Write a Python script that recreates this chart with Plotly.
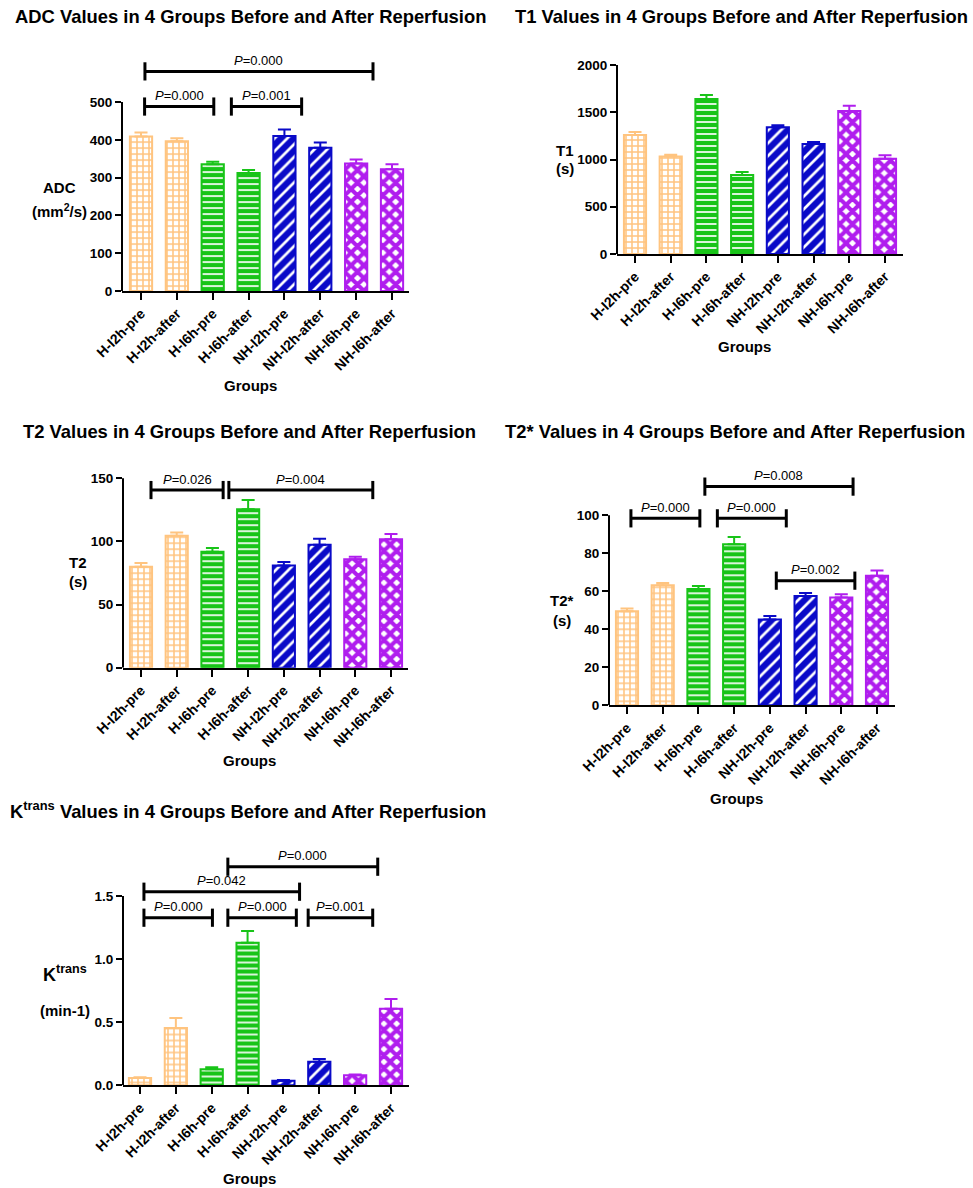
import plotly.graph_objects as go

# ---------------- data ----------------
categories = ["H-I2h-pre", "H-I2h-after", "H-I6h-pre", "H-I6h-after",
              "NH-I2h-pre", "NH-I2h-after", "NH-I6h-pre", "NH-I6h-after"]

adc_mean = [409, 396, 335, 312, 410, 379, 337, 322]
adc_sem = [10, 8, 7, 8, 17, 14, 11, 13]
t1_mean = [1259, 1033, 1640, 836, 1340, 1164, 1513, 1009]
t1_sem = [32, 18, 43, 32, 22, 21, 57, 35]
t2_mean = [80, 104.6, 91.9, 125.4, 81, 97.4, 85.8, 101.7]
t2_sem = [3.0, 2.4, 2.9, 7.4, 2.7, 4.8, 2.1, 4.2]
t2s_mean = [49.5, 63.2, 61.2, 84.7, 45.1, 57.5, 56.8, 68.2]
t2s_sem = [1.5, 1.2, 1.6, 3.9, 1.9, 1.6, 1.6, 2.8]
ktrans_mean = [0.058, 0.454, 0.127, 1.130, 0.037, 0.187, 0.079, 0.607]
ktrans_sem = [0.005, 0.079, 0.016, 0.093, 0.005, 0.022, 0.006, 0.077]

# significance brackets: start/end category index, level (data units), P value
adc_br_start = [0.1, 2.52, 0.11]
adc_br_end = [2.03, 4.48, 6.47]
adc_br_level = [488, 488, 581]
adc_br_p = ["0.000", "0.001", "0.000"]

t2_br_start = [0.28, 2.46]
t2_br_end = [2.30, 6.49]
t2_br_level = [140.7, 140.7]
t2_br_p = ["0.026", "0.004"]

t2s_br_start = [0.11, 2.53, 2.18, 4.18]
t2s_br_end = [2.04, 4.46, 6.33, 6.38]
t2s_br_level = [98.4, 98.4, 115.1, 65.6]
t2s_br_p = ["0.000", "0.000", "0.008", "0.002"]

kt_br_start = [0.11, 2.45, 4.69, 0.11, 2.45]
kt_br_end = [2.02, 4.36, 6.49, 4.45, 6.63]
kt_br_level = [1.328, 1.328, 1.328, 1.534, 1.732]
kt_br_p = ["0.000", "0.000", "0.001", "0.042", "0.000"]

# ---------------- styling ----------------
W, H = 973, 1188
FONT = "Liberation Sans, Arial, sans-serif"
ORANGE = "#FFC47F"
GREEN = "#18C418"
BLUE = "#0A0AC8"
PURPLE = "#B01EEE"

groups = [  # (bar indices, color, pattern)
    ([0, 1], ORANGE, dict(shape="+", fgcolor=ORANGE, bgcolor="white", size=6, solidity=0.45, fillmode="replace")),
    ([2, 3], GREEN, dict(shape="-", fgcolor="white", bgcolor=GREEN, size=6, solidity=0.28, fillmode="replace")),
    ([4, 5], BLUE, dict(shape="/", fgcolor="white", bgcolor=BLUE, size=9, solidity=0.3, fillmode="replace")),
    ([6, 7], PURPLE, dict(shape="x", fgcolor=PURPLE, bgcolor="white", size=9, solidity=0.7, fillmode="replace")),
]

# panel geometry in pixels: axis left, axis right, cat0 center, cat7 center, y0 px, ytop px, ytop value, ext value, dtick
panels = [
    dict(mean=adc_mean, sem=adc_sem, geo=(122, 409, 141, 392, 291, 102, 500, 640, 100), fmt="d",
         br=(adc_br_start, adc_br_end, adc_br_level, adc_br_p),
         title="<b>ADC Values in 4 Groups Before and After Reperfusion</b>", tpos=(250, 17),
         ytitle=[("<b>ADC</b>", 59, 187, 15), ("<b>(mm<sup>2</sup>/s)</b>", 59, 210, 15)], gpos=(250, 385)),
    dict(mean=t1_mean, sem=t1_sem, geo=(617, 903, 635, 885, 254, 65, 2000, 2000, 500), fmt="d",
         br=None,
         title="<b>T1 Values in 4 Groups Before and After Reperfusion</b>", tpos=(741, 17),
         ytitle=[("<b>T1</b>", 565, 150, 15), ("<b>(s)</b>", 565, 168, 15)], gpos=(744, 347)),
    dict(mean=t2_mean, sem=t2_sem, geo=(123, 408, 141, 391, 667.7, 478.3, 150, 158, 50), fmt="d",
         br=(t2_br_start, t2_br_end, t2_br_level, t2_br_p),
         title="<b>T2 Values in 4 Groups Before and After Reperfusion</b>", tpos=(249, 431),
         ytitle=[("<b>T2</b>", 78, 563, 15), ("<b>(s)</b>", 78, 582, 15)], gpos=(249, 760)),
    dict(mean=t2s_mean, sem=t2s_sem, geo=(609, 895, 627, 877, 705.3, 515.3, 100, 130, 20), fmt="d",
         br=(t2s_br_start, t2s_br_end, t2s_br_level, t2s_br_p),
         title="<b>T2* Values in 4 Groups Before and After Reperfusion</b>", tpos=(735, 431),
         ytitle=[("<b>T2*</b>", 562, 601, 15), ("<b>(s)</b>", 562, 620, 15)], gpos=(736, 798)),
    dict(mean=ktrans_mean, sem=ktrans_sem, geo=(123, 409, 140, 391, 1085.3, 896, 1.5, 1.9, 0.5), fmt=".1f",
         br=(kt_br_start, kt_br_end, kt_br_level, kt_br_p),
         title="<b>K<sup>trans</sup> Values in 4 Groups Before and After Reperfusion</b>", tpos=(248, 810),
         ytitle=[("<b>K<sup>trans</sup></b>", 65, 973, 18), ("<b>(min-1)</b>", 65, 1010, 15)], gpos=(249, 1178)),
]

fig = go.Figure()
annotations = []
shapes = []
xpos = list(range(len(categories)))

for n, p in enumerate(panels, start=1):
    xa = "x" if n == 1 else f"x{n}"
    ya = "y" if n == 1 else f"y{n}"
    left, right, c0, c7, y0px, ytpx, ytv, ext, dt = p["geo"]
    sp = (c7 - c0) / 7.0
    k = (y0px - ytpx) / ytv
    top_px = y0px - ext * k

    for idx, col, pat in groups:
        fig.add_trace(go.Bar(
            x=[xpos[i] for i in idx], y=[p["mean"][i] for i in idx],
            width=0.62,
            marker=dict(color=col, line=dict(color=col, width=2), pattern=pat),
            error_y=dict(type="data", symmetric=False,
                         array=[p["sem"][i] for i in idx], arrayminus=[0] * len(idx),
                         color=col, thickness=2, width=6.5),
            xaxis=xa, yaxis=ya, showlegend=False, hoverinfo="x+y",
        ))

    if p["br"] is not None:
        bs, be, bl, bp = p["br"]
        for s, e, lv, pv in zip(bs, be, bl, bp):
            fig.add_trace(go.Scatter(
                x=[s, e], y=[lv, lv], mode="lines+markers",
                line=dict(color="black", width=3),
                marker=dict(symbol="line-ns", size=13, line=dict(color="black", width=3)),
                xaxis=xa, yaxis=ya, showlegend=False, hoverinfo="skip", cliponaxis=False,
            ))
            annotations.append(dict(
                x=(s + e) / 2, y=lv, xref=xa, yref=ya, text=f"<i>P</i>={pv}",
                showarrow=False, yanchor="middle", yshift=11,
                font=dict(family=FONT, size=13, color="black"),
            ))

    tickvals = []
    v = 0.0
    while v <= ytv + 1e-9:
        tickvals.append(v)
        v += dt

    fig.update_layout(**{
        ("xaxis" if n == 1 else f"xaxis{n}"): dict(
            domain=[left / W, right / W],
            range=[(left - c0) / sp, (right - c0) / sp],
            anchor=ya, showline=True, linecolor="black", linewidth=2,
            tickmode="array", tickvals=xpos, ticktext=categories,
            ticks="outside", ticklen=7, tickwidth=2, tickcolor="black",
            tickangle=-45, showgrid=False, zeroline=False, automargin=False,
            tickfont=dict(family=FONT, size=14, color="black", weight="bold"),
        ),
        ("yaxis" if n == 1 else f"yaxis{n}"): dict(
            domain=[1 - y0px / H, 1 - top_px / H],
            range=[0, ext], anchor=xa, showline=False, automargin=False,
            tickmode="array", tickvals=tickvals,
            ticktext=[format(t, p["fmt"]) if p["fmt"] != "d" else str(int(round(t))) for t in tickvals],
            ticks="outside", ticklen=6, tickwidth=2, tickcolor="black",
            showgrid=False, zeroline=False,
            tickfont=dict(family=FONT, size=13.5, color="black", weight="bold"),
        ),
    })

    shapes.append(dict(type="line", xref=f"{xa} domain", yref=ya, x0=0, x1=0, y0=0, y1=ytv,
                       line=dict(color="black", width=2)))

    annotations.append(dict(text=p["title"], x=p["tpos"][0] / W, y=1 - p["tpos"][1] / H,
                            xref="paper", yref="paper", showarrow=False,
                            xanchor="center", yanchor="middle",
                            font=dict(family=FONT, size=18.4, color="black")))
    for txt, tx, ty, fs in p["ytitle"]:
        annotations.append(dict(text=txt, x=tx / W, y=1 - ty / H, xref="paper", yref="paper",
                                showarrow=False, xanchor="center", yanchor="middle",
                                font=dict(family=FONT, size=fs, color="black")))
    annotations.append(dict(text="<b>Groups</b>", x=p["gpos"][0] / W, y=1 - p["gpos"][1] / H,
                            xref="paper", yref="paper", showarrow=False,
                            xanchor="center", yanchor="middle",
                            font=dict(family=FONT, size=15, color="black")))

fig.update_layout(
    template="none",
    width=W, height=H, margin=dict(l=0, r=0, t=0, b=0, autoexpand=False),
    paper_bgcolor="white", plot_bgcolor="white",
    barmode="overlay", annotations=annotations, shapes=shapes,
    font=dict(family=FONT, color="black"),
)

fig.write_html("out.html", config={"displayModeBar": False},
               post_script="document.body.style.margin='0px';document.body.style.overflow='hidden';")
